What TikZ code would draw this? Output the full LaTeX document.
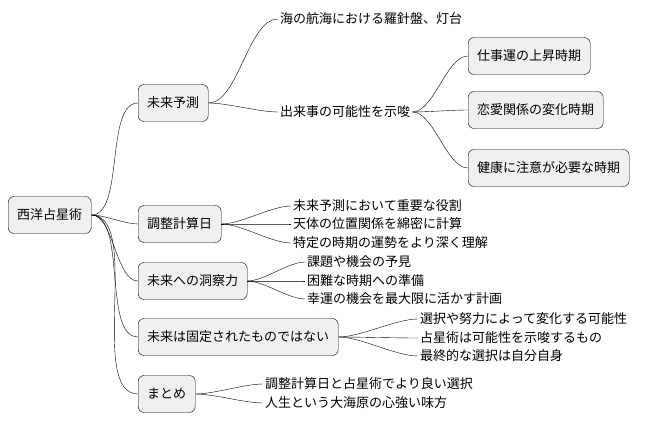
\documentclass[tikz,border=0pt]{standalone}
\usepackage{fontspec}
\setmainfont{Noto Sans CJK JP}
\begin{document}
\begin{tikzpicture}[x=1pt,y=-1pt,font=\fontsize{13}{15}\selectfont,
  box/.style={draw,fill=gray!12,rounded corners=6pt,minimum height=37pt,inner xsep=9pt,anchor=west},
  leaf/.style={inner xsep=2pt,anchor=west},
  link/.style={out=0,in=180,looseness=0.7}]
\useasboundingbox (0,0) rectangle (653,433);
\node[box] (root) at (8,215) {西洋占星術};
\node[box] (yosoku) at (138,103) {未来予測};
\node[box] (chosei) at (138,224) {調整計算日};
\node[box] (dosatsu) at (138,281) {未来への洞察力};
\node[box] (kotei) at (138,337) {未来は固定されたものではない};
\node[box] (matome) at (138,394) {まとめ};
\node[leaf] (rashin) at (278,19) {海の航海における羅針盤、灯台};
\node[leaf] (kanou) at (278,112) {出来事の可能性を示唆};
\node[box] (shigoto) at (468,56) {仕事運の上昇時期};
\node[box] (renai) at (468,110) {恋愛関係の変化時期};
\node[box] (kenkou) at (468,168) {健康に注意が必要な時期};
\node[leaf] (c1) at (291,206) {未来予測において重要な役割};
\node[leaf] (c2) at (291,224) {天体の位置関係を綿密に計算};
\node[leaf] (c3) at (291,243) {特定の時期の運勢をより深く理解};
\node[leaf] (d1) at (305,262) {課題や機会の予見};
\node[leaf] (d2) at (305,281) {困難な時期への準備};
\node[leaf] (d3) at (305,299) {幸運の機会を最大限に活かす計画};
\node[leaf] (k1) at (418,319) {選択や努力によって変化する可能性};
\node[leaf] (k2) at (418,338) {占星術は可能性を示唆するもの};
\node[leaf] (k3) at (418,356) {最終的な選択は自分自身};
\node[leaf] (m1) at (263,384) {調整計算日と占星術でより良い選択};
\node[leaf] (m2) at (263,403) {人生という大海原の心強い味方};
\foreach \a/\b in {root/yosoku,root/chosei,root/dosatsu,root/kotei,root/matome,
  yosoku/rashin,yosoku/kanou,kanou/shigoto,kanou/renai,kanou/kenkou,
  chosei/c1,chosei/c2,chosei/c3,dosatsu/d1,dosatsu/d2,dosatsu/d3,
  kotei/k1,kotei/k2,kotei/k3,matome/m1,matome/m2}
  \draw (\a.east) to[link] (\b.west);
\end{tikzpicture}
\end{document}
